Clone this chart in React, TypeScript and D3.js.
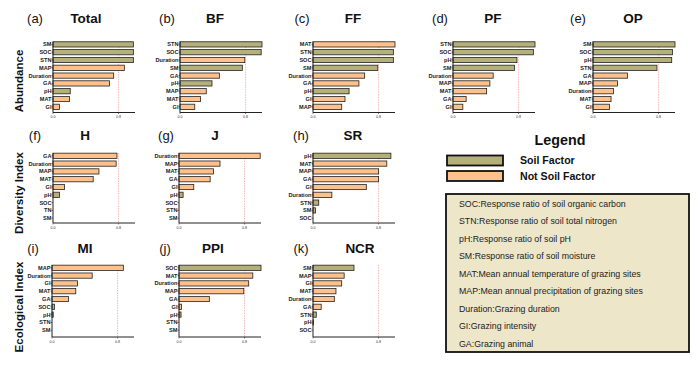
import React from "react";
import * as d3 from "d3";

const soilFactors = ["SOC", "STN", "TN", "pH", "SM"];

const titles = ["Total", "BF", "FF", "PF", "OP", "H", "J", "SR", "MI", "PPI", "NCR"];
const letters = ["(a)", "(b)", "(c)", "(d)", "(e)", "(f)", "(g)", "(h)", "(i)", "(j)", "(k)"];

const catsA = ["SM", "SOC", "STN", "MAP", "Duration", "GA", "pH", "MAT", "GI"];
const valsA = [0.98, 0.98, 0.98, 0.87, 0.74, 0.69, 0.21, 0.2, 0.08];
const catsB = ["STN", "SOC", "Duration", "SM", "GA", "pH", "MAP", "MAT", "GI"];
const valsB = [1.0, 0.99, 0.79, 0.76, 0.48, 0.39, 0.32, 0.25, 0.18];
const catsC = ["MAT", "STN", "SOC", "SM", "Duration", "GA", "pH", "GI", "MAP"];
const valsC = [1.0, 0.98, 0.98, 0.79, 0.63, 0.56, 0.44, 0.39, 0.35];
const catsD = ["STN", "SOC", "pH", "SM", "Duration", "MAP", "MAT", "GA", "GI"];
const valsD = [1.0, 0.98, 0.78, 0.75, 0.49, 0.45, 0.41, 0.16, 0.12];
const catsE = ["SM", "SOC", "pH", "STN", "GA", "MAP", "Duration", "MAT", "GI"];
const valsE = [1.0, 0.97, 0.96, 0.78, 0.42, 0.3, 0.25, 0.22, 0.2];
const catsF = ["GA", "Duration", "MAP", "MAT", "GI", "pH", "SOC", "TN", "SM"];
const valsF = [0.78, 0.77, 0.56, 0.49, 0.14, 0.08, 0, 0, 0];
const catsG = ["Duration", "MAP", "MAT", "GA", "GI", "pH", "SOC", "STN", "SM"];
const valsG = [0.99, 0.5, 0.42, 0.38, 0.18, 0.05, 0, 0, 0];
const catsH = ["pH", "MAT", "MAP", "GA", "GI", "Duration", "STN", "SM", "SOC"];
const valsH = [0.95, 0.9, 0.8, 0.8, 0.65, 0.23, 0.07, 0.03, 0];
const catsI = ["MAP", "Duration", "GI", "MAT", "GA", "SOC", "pH", "STN", "SM"];
const valsI = [0.87, 0.49, 0.31, 0.29, 0.2, 0.03, 0.015, 0, 0];
const catsJ = ["SOC", "MAT", "Duration", "MAP", "GA", "GI", "pH", "STN", "SM"];
const valsJ = [1.0, 0.9, 0.85, 0.79, 0.37, 0.03, 0.025, 0, 0];
const catsK = ["SM", "MAP", "GI", "MAT", "Duration", "GA", "STN", "pH", "SOC"];
const valsK = [0.5, 0.38, 0.35, 0.28, 0.26, 0.1, 0.04, 0.005, 0];

const allCats = [catsA, catsB, catsC, catsD, catsE, catsF, catsG, catsH, catsI, catsJ, catsK];
const allVals = [valsA, valsB, valsC, valsD, valsE, valsF, valsG, valsH, valsI, valsJ, valsK];

const xTicks = [0, 0.8];
const threshold = 0.8;

const rowLabels = ["Abundance", "Diversity Index", "Ecological Index"];

const legendItems = ["Soil Factor", "Not Soil Factor"];
const abbreviations = [
  "SOC:Response ratio of soil organic carbon",
  "STN:Response ratio of soil total nitrogen",
  "pH:Response ratio of soil pH",
  "SM:Response ratio of soil moisture",
  "MAT:Mean annual temperature of grazing sites",
  "MAP:Mean annual precipitation of grazing sites",
  "Duration:Grazing duration",
  "GI:Grazing intensity",
  "GA:Grazing animal",
];

// layout (not data)
const FONT = "'Liberation Sans', Arial, sans-serif";
const SOIL = "#b5af7a";
const NOT_SOIL = "#fec18c";
const panelX0 = [53, 180, 313, 453, 593, 53, 179, 313, 52, 179, 313];
const panelTitleX = [86, 215, 353, 493, 633, 85, 215, 353, 85, 213, 360];
const panelLetterX = [35, 167, 302, 440, 578, 35, 166, 301, 33, 165, 301];
const panelRow = [0, 0, 0, 0, 0, 1, 1, 1, 2, 2, 2];
const rowTop = [40.6, 152, 264];
const rowAxisY = [112.5, 223, 337];
const rowTitleY = [23, 140, 253];
const rowLabelCY = [81, 193, 307];
const plotW = 82;
const bandH = 70;

function Panel({ i }: { i: number }) {
  const x0 = panelX0[i];
  const r = panelRow[i];
  const cats = allCats[i];
  const vals = allVals[i];
  const x = d3.scaleLinear().domain([0, 1]).range([x0, x0 + plotW]);
  const y = d3
    .scaleBand<string>()
    .domain(cats)
    .range([rowTop[r], rowTop[r] + bandH])
    .paddingInner(0.33)
    .paddingOuter(0.15);
  const axisY = rowAxisY[r];
  const top = rowTop[r] + 1;
  return (
    <g>
      <text x={panelLetterX[i]} y={rowTitleY[r]} textAnchor="middle" fontSize={13} fontFamily={FONT} fill="#111">
        {letters[i]}
      </text>
      <text x={panelTitleX[i]} y={rowTitleY[r]} textAnchor="middle" fontSize={13.5} fontWeight="bold" fontFamily={FONT} fill="#111">
        {titles[i]}
      </text>
      <line x1={x(threshold)} x2={x(threshold)} y1={top} y2={axisY} stroke="#f08a8a" strokeWidth={0.6} strokeDasharray="1.5,1" />
      {cats.map((c, k) => {
        const v = vals[k];
        if (v <= 0) return null;
        return (
          <rect
            key={c}
            x={x(0)}
            y={y(c)}
            width={x(v) - x(0)}
            height={y.bandwidth()}
            fill={soilFactors.includes(c) ? SOIL : NOT_SOIL}
            stroke="#222"
            strokeWidth={0.8}
          />
        );
      })}
      {cats.map((c) => (
        <g key={"l" + c}>
          <line x1={x0 - 1.5} x2={x0} y1={(y(c) as number) + y.bandwidth() / 2} y2={(y(c) as number) + y.bandwidth() / 2} stroke="#222" strokeWidth={0.6} />
          <text
            x={x0 - 1.5}
            y={(y(c) as number) + y.bandwidth() / 2}
            dy="0.35em"
            textAnchor="end"
            fontSize={5.6}
            fontWeight="bold"
            fontFamily={FONT}
            fill="#222"
          >
            {c}
          </text>
        </g>
      ))}
      <line x1={x0} x2={x0} y1={top} y2={axisY} stroke="#222" strokeWidth={1} />
      <line x1={x0} x2={x0 + plotW} y1={axisY} y2={axisY} stroke="#222" strokeWidth={1} />
      {xTicks.map((t) => (
        <g key={"t" + t}>
          <line x1={x(t)} x2={x(t)} y1={axisY} y2={axisY + 1.5} stroke="#222" strokeWidth={0.6} />
          <text x={x(t)} y={axisY + 5.5} textAnchor="middle" fontSize={3.6} fontFamily={FONT} fill="#333">
            {d3.format(".1f")(t)}
          </text>
        </g>
      ))}
    </g>
  );
}

export default function App() {
  return (
    <svg
      width={700}
      height={377}
      style={{ position: "absolute", left: 0, top: 0, background: "#fff" }}
    >
      <rect x={0} y={0} width={700} height={377} fill="#fff" />
      {rowLabels.map((l, r) => (
        <text
          key={l}
          transform={`translate(23,${rowLabelCY[r]}) rotate(-90)`}
          textAnchor="middle"
          fontSize={11.5}
          fontWeight="bold"
          fontFamily={FONT}
          fill="#111"
        >
          {l}
        </text>
      ))}
      {titles.map((_, i) => (
        <Panel key={i} i={i} />
      ))}
      <text x={560} y={145} textAnchor="middle" fontSize={14.3} fontWeight="bold" fontFamily={FONT} fill="#111">
        Legend
      </text>
      {legendItems.map((l, k) => (
        <g key={l}>
          <rect x={447} y={155.5 + k * 15.5} width={56} height={10} fill={k === 0 ? SOIL : NOT_SOIL} stroke="#111" strokeWidth={1.8} />
          <text x={520} y={164 + k * 16} fontSize={10.6} fontWeight="bold" fontFamily={FONT} fill="#111">
            {l}
          </text>
        </g>
      ))}
      <rect x={446} y={194} width={243} height={158} fill="#ede6c9" stroke="#111" strokeWidth={1.8} />
      {abbreviations.map((a, k) => (
        <text key={a} x={459} y={206.5 + k * 17.55} fontSize={8.8} fontFamily={FONT} fill="#222">
          {a}
        </text>
      ))}
    </svg>
  );
}
